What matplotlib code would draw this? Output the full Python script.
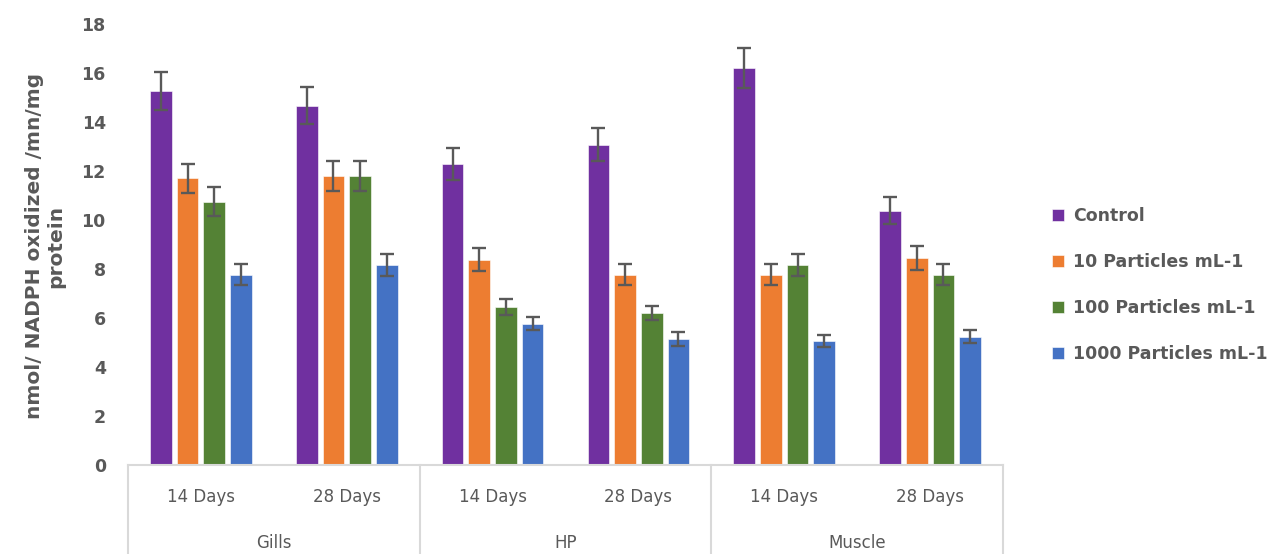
import matplotlib.pyplot as plt
import numpy as np

# NADPH oxidation by tissue and exposure time
tissues = ['Gills', 'HP', 'Muscle']
days = ['14 Days', '28 Days']
series = ['Control', '10 Particles mL-1', '100 Particles mL-1', '1000 Particles mL-1']

control = [15.27, 14.67, 12.27, 13.07, 16.2, 10.38]
p10 = [11.70, 11.80, 8.38, 7.77, 7.76, 8.43]
p100 = [10.75, 11.80, 6.45, 6.19, 8.18, 7.76]
p1000 = [7.76, 8.16, 5.77, 5.14, 5.07, 5.24]

control_err = [0.78, 0.76, 0.65, 0.68, 0.82, 0.56]
p10_err = [0.60, 0.60, 0.46, 0.44, 0.43, 0.49]
p100_err = [0.60, 0.60, 0.34, 0.29, 0.45, 0.43]
p1000_err = [0.43, 0.46, 0.28, 0.29, 0.25, 0.28]

colours = ['#7030A0', '#ED7D31', '#548235', '#4472C4']
grey = '#595959'

values = [control, p10, p100, p1000]
errors = [control_err, p10_err, p100_err, p1000_err]

fig = plt.figure(figsize=(12.74, 5.54), dpi=100)
ax = fig.add_axes([128/1274, 89/554, 875/1274, 441/554])

x = np.arange(len(tissues) * len(days))
pitch = 0.183
width = 0.148
for i, (vals, errs) in enumerate(zip(values, errors)):
    pos = x + (i - 1.5) * pitch
    ax.bar(pos, vals, width=width, color=colours[i], label=series[i],
           edgecolor='white', linewidth=0.4)
    ax.errorbar(pos, vals, yerr=errs, fmt='none', ecolor=grey,
                elinewidth=1.7, capsize=5, capthick=1.7)

ax.set_xlim(-0.5, len(x) - 0.5)
ax.set_ylim(0, 18)
ax.set_yticks(range(0, 19, 2))
ax.tick_params(axis='y', length=0, pad=16, labelsize=12.5, labelcolor=grey)
for lab in ax.get_yticklabels():
    lab.set_fontweight('bold')
ax.set_xticks([])
for s in ['top', 'right', 'left']:
    ax.spines[s].set_visible(False)
ax.spines['bottom'].set_color('#d9d9d9')
ax.spines['bottom'].set_linewidth(1.5)

# two-level category axis
ax_h = 441
for k in range(len(tissues) + 1):
    xv = k * 2 - 0.5
    ax.plot([xv, xv], [0, -89 / ax_h * 18], color='#d9d9d9', lw=1.5,
            clip_on=False, transform=ax.transData)
for j in range(len(x)):
    ax.text(x[j], -32 / ax_h * 18, days[j % 2], ha='center', va='center',
            fontsize=12, color=grey)
for k, t in enumerate(tissues):
    ax.text(2 * k + 0.5, -78 / ax_h * 18, t, ha='center', va='center',
            fontsize=12, color=grey)

fig.text(45/1274, 1 - 246/554, 'nmol/ NADPH oxidized /mn/mg\nprotein',
         rotation=90, ha='center', va='center', multialignment='center',
         fontsize=14.5, fontweight='bold', color=grey, linespacing=1.15)

leg = fig.legend(loc='center left', bbox_to_anchor=(1036/1274, 1 - 285/554),
                 frameon=False, handlelength=0.7, handleheight=0.7,
                 handletextpad=0.55, labelspacing=1.6, fontsize=12.5)
for t in leg.get_texts():
    t.set_color(grey)
    t.set_fontweight('bold')

fig.savefig('out.png', dpi=100)
